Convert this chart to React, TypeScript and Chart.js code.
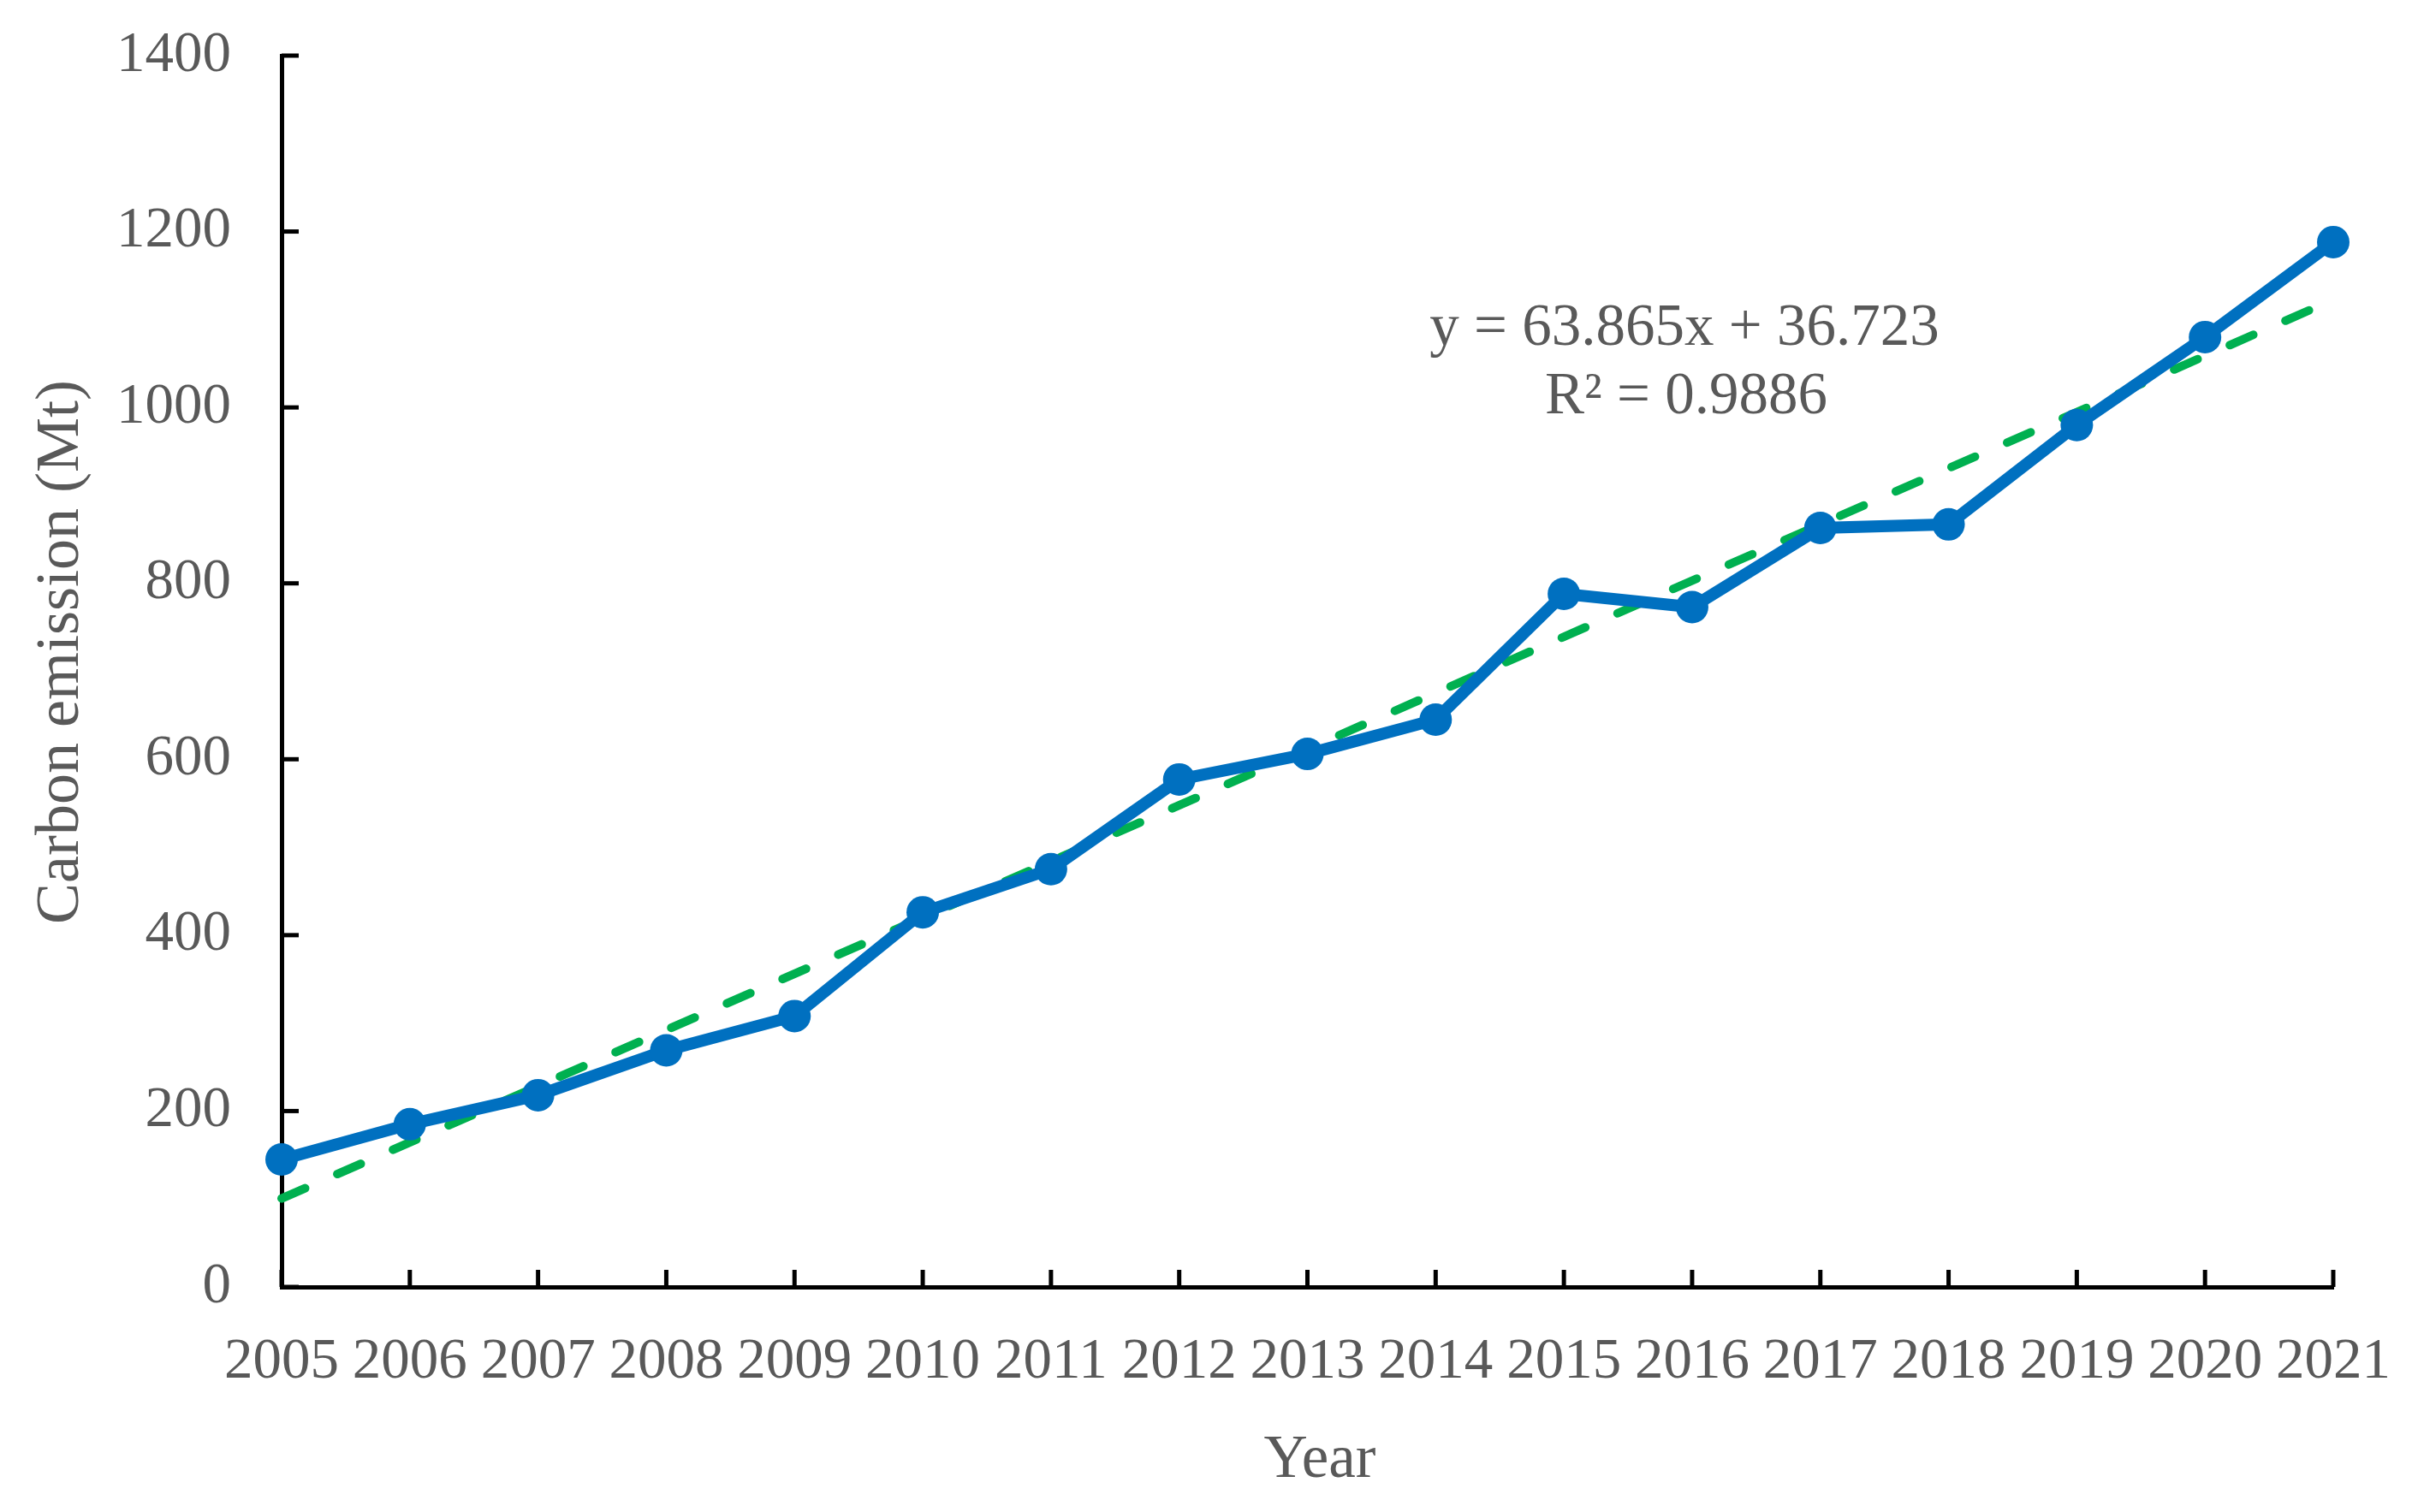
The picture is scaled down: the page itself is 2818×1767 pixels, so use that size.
import React, { useEffect, useRef } from 'react';
import { Chart, registerables } from 'chart.js';

Chart.register(...registerables);

// ---- Data ----
const years = ['2005', '2006', '2007', '2008', '2009', '2010', '2011', '2012', '2013', '2014', '2015', '2016', '2017', '2018', '2019', '2020', '2021'];
const emissions = [145, 185, 218, 269, 308, 426, 475, 577, 606, 645, 788, 773, 863, 867, 980, 1080, 1188];
const trendYears = ['2005', '2021'];
const trendValues = [100.6, 1122.4];
const yMin = 0;
const yMax = 1400;
const yStep = 200;
const equationLines = ['y = 63.865x + 36.723', 'R\u00B2 = 0.9886'];
const yTitle = 'Carbon emission (Mt)';
const xTitle = 'Year';

const W = 2818;
const H = 1767;
const FONT = '"Liberation Serif", "Times New Roman", serif';
const TEXT = '#595959';

const innerTicks = {
  id: 'innerTicks',
  beforeDatasetsDraw(chart: any) {
    const { ctx, chartArea, scales } = chart;
    ctx.save();
    ctx.strokeStyle = '#000';
    ctx.lineWidth = 5;
    const len = 20;
    const ys = scales.y;
    ys.ticks.forEach((_t: any, i: number) => {
      const y = ys.getPixelForTick(i);
      ctx.beginPath();
      ctx.moveTo(chartArea.left, y);
      ctx.lineTo(chartArea.left + len, y);
      ctx.stroke();
    });
    const xs = scales.x;
    xs.ticks.forEach((_t: any, i: number) => {
      const x = xs.getPixelForTick(i);
      ctx.beginPath();
      ctx.moveTo(x, chartArea.bottom);
      ctx.lineTo(x, chartArea.bottom - len);
      ctx.stroke();
    });
    ctx.restore();
  },
};

const textPlugin = {
  id: 'texts',
  afterDatasetsDraw(chart: any) {
    const { ctx } = chart;
    ctx.save();
    ctx.fillStyle = TEXT;
    ctx.textAlign = 'center';
    ctx.textBaseline = 'middle';
    ctx.font = `69px ${FONT}`;
    ctx.fillText(equationLines[0], 1968, 385);
    ctx.fillText(equationLines[1], 1970, 465);
    // axis titles
    ctx.font = `71px ${FONT}`;
    ctx.fillText(xTitle, 1542, 1707);
    ctx.save();
    ctx.translate(72, 762);
    ctx.rotate(-Math.PI / 2);
    ctx.font = `72px ${FONT}`;
    ctx.fillText(yTitle, 0, 0);
    ctx.restore();
    ctx.restore();
  },
};

export default function App() {
  const ref = useRef<HTMLCanvasElement>(null);

  useEffect(() => {
    if (!ref.current) return;
    const chart = new Chart(ref.current, {
      type: 'line',
      data: {
        labels: years,
        datasets: [
          {
            label: 'Trend',
            data: trendYears.map((x, i) => ({ x, y: trendValues[i] })) as any,
            borderColor: '#00B050',
            borderWidth: 10,
            borderDash: [30, 41],
            borderCapStyle: 'round',
            pointRadius: 0,
            fill: false,
            clip: false as any,
            order: 2,
          },
          {
            label: 'Carbon emission',
            data: emissions,
            borderColor: '#0070C0',
            backgroundColor: '#0070C0',
            borderWidth: 14,
            pointRadius: 19,
            pointBackgroundColor: '#0070C0',
            pointBorderWidth: 0,
            tension: 0,
            fill: false,
            clip: false as any,
            order: 1,
          },
        ],
      },
      options: {
        responsive: false,
        animation: false,
        devicePixelRatio: 1,
        layout: { padding: { left: 0, right: 92, top: 65, bottom: 0 } },
        plugins: {
          legend: { display: false },
          tooltip: { enabled: false },
        },
        scales: {
          x: {
            type: 'category',
            offset: false,
            grid: { display: false, drawTicks: false },
            border: { display: true, color: '#000', width: 5 },
            ticks: {
              color: TEXT,
              font: { family: FONT, size: 67 },
              padding: 48,
              maxRotation: 0,
              autoSkip: false,
            },
            title: { display: false, text: xTitle },
            afterFit(scale: any) {
              scale.height = 263;
              scale.paddingLeft = 0;
              scale.paddingRight = 0;
            },
          },
          y: {
            min: yMin,
            max: yMax,
            grid: { display: false, drawTicks: false },
            border: { display: true, color: '#000', width: 5 },
            ticks: {
              stepSize: yStep,
              color: TEXT,
              font: { family: FONT, size: 67 },
              padding: 59,
              callback: (v: any) => String(v),
            },
            title: { display: false, text: yTitle },
            afterFit(scale: any) {
              scale.width = 329;
              scale.paddingTop = 0;
              scale.paddingBottom = 0;
            },
          },
        },
      },
      plugins: [innerTicks, textPlugin],
    });
    return () => chart.destroy();
  }, []);

  return (
    <div style={{ position: 'absolute', left: 0, top: 0, width: W, height: H, background: '#fff' }}>
      <canvas ref={ref} width={W} height={H} style={{ display: 'block', width: W, height: H }} />
    </div>
  );
}
